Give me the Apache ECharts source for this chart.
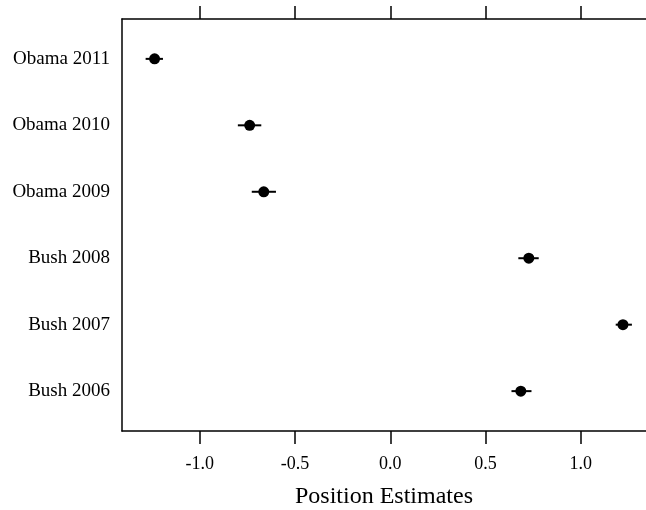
<!DOCTYPE html>
<html>
<head>
<meta charset="utf-8">
<title>Position Estimates</title>
<script src="https://cdn.jsdelivr.net/npm/echarts@6/dist/echarts.min.js"></script>
<style>
html, body { margin: 0; padding: 0; background: #fff; }
#chart { width: 646px; height: 510px; }
</style>
</head>
<body>
<div id="chart"></div>
<script>
// bottom to top
var categories = ['Bush 2006', 'Bush 2007', 'Bush 2008', 'Obama 2009', 'Obama 2010', 'Obama 2011'];
var estimates = [0.685, 1.221, 0.727, -0.664, -0.738, -1.237];
var lower = [0.636, 1.183, 0.672, -0.727, -0.800, -1.284];
var upper = [0.741, 1.268, 0.779, -0.600, -0.677, -1.193];
var xTicks = [-1.0, -0.5, 0.0, 0.5, 1.0];
var yTicks = [1, 2, 3, 4, 5, 6];

var font = 'Liberation Serif';

var points = [], bars = [];
for (var i = 0; i < categories.length; i++) {
	points.push([estimates[i], i + 1]);
	bars.push([lower[i], upper[i], i + 1]);
}

var chart = echarts.init(document.getElementById('chart'));

var xBase = {
	type: 'value',
	min: -1.408,
	max: 1.342,
	splitLine: { show: false },
	axisLine: { onZero: false, lineStyle: { color: '#000', width: 1.5 } },
	axisTick: { customValues: xTicks, length: 13, lineStyle: { color: '#000', width: 1.5 } }
};

chart.setOption({
	animation: false,
	grid: { left: 122, right: 0, top: 19, bottom: 79, outerBoundsMode: 'none', containLabel: false },
	xAxis: [
		echarts.util.merge({
			position: 'bottom',
			name: 'Position Estimates',
			nameLocation: 'middle',
			nameGap: 54,
			nameTextStyle: { fontFamily: font, fontSize: 24, color: '#000' },
			axisLabel: {
				customValues: xTicks,
				margin: 24,
				fontFamily: font,
				fontSize: 18,
				color: '#000',
				formatter: function (v) { return v.toFixed(1); }
			}
		}, xBase, true),
		echarts.util.merge({
			position: 'top',
			axisLabel: { show: false }
		}, xBase, true)
	],
	yAxis: {
		type: 'value',
		min: 0.4,
		max: 6.6,
		splitLine: { show: false },
		axisTick: { show: false },
		axisLine: { show: true, onZero: false, lineStyle: { color: '#000', width: 1.5 } },
		axisLabel: {
			customValues: yTicks,
			margin: 12,
			fontFamily: font,
			fontSize: 19,
			color: '#000',
			formatter: function (v) { return categories[v - 1]; }
		}
	},
	series: [
		{
			type: 'custom',
			renderItem: function (params, api) {
				var a = api.coord([api.value(0), api.value(2)]);
				var b = api.coord([api.value(1), api.value(2)]);
				return {
					type: 'line',
					shape: { x1: a[0], y1: a[1], x2: b[0], y2: b[1] },
					style: { stroke: '#000', lineWidth: 2 }
				};
			},
			encode: { x: [0, 1], y: 2 },
			data: bars
		},
		{
			type: 'scatter',
			symbol: 'circle',
			symbolSize: 11,
			itemStyle: { color: '#000', opacity: 1 },
			data: points,
			z: 3
		}
	]
});
</script>
</body>
</html>
